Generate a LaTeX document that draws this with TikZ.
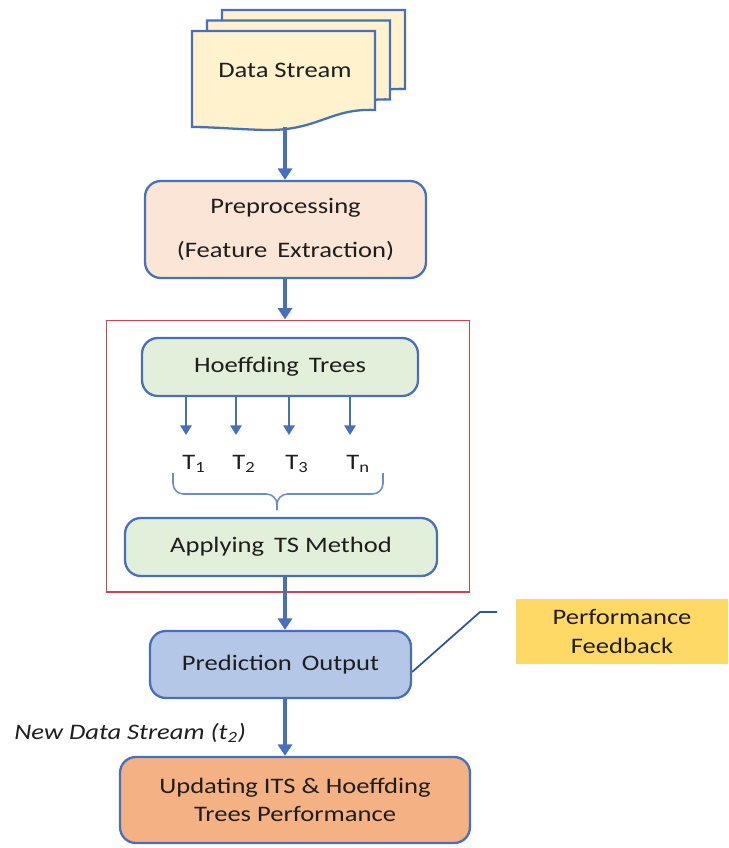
\documentclass[tikz,border=0pt]{standalone}
\usepackage{fontspec}
\setmainfont{Carlito}[FakeStretch=1.2]
\usepackage{tikz}
\usetikzlibrary{arrows.meta,positioning,calc}

\definecolor{edgeblue}{RGB}{72,112,186}
\definecolor{callblue}{RGB}{47,85,151}
\definecolor{docfill}{RGB}{255,242,204}
\definecolor{prepfill}{RGB}{251,229,214}
\definecolor{treefill}{RGB}{226,239,218}
\definecolor{predfill}{RGB}{180,199,231}
\definecolor{updfill}{RGB}{244,177,131}
\definecolor{feedfill}{RGB}{255,217,102}
\definecolor{framered}{RGB}{200,70,80}
\definecolor{inkgray}{RGB}{30,30,30}

\newcommand{\wsp}{\hspace{0.45em}}

\begin{document}
\begin{tikzpicture}[
    x=0.02cm, y=-0.02cm,
    >={Triangle[width=8pt,length=6.5pt]},
    every node/.style={font=\fontsize{12.6}{16}\selectfont, text=inkgray},
    flowbox/.style={draw=edgeblue, line width=1.3pt, rounded corners=9pt, align=center, inner sep=2pt},
    page/.style={draw=edgeblue, line width=1.3pt, fill=docfill},
    flow/.style={->, draw=edgeblue, line width=2.1pt},
    treearrow/.style={-{Triangle[width=6.5pt,length=5.5pt]}, draw=edgeblue, line width=1pt},
    tlabel/.style={anchor=base west, inner sep=0pt}
]
\useasboundingbox (0,0) rectangle (728,848);
\coordinate (spine) at (285,0);

% stacked pages of the incoming stream, back to front
\foreach \d in {2,1,0}{
  \begin{scope}[shift={(15*\d,-10.5*\d)}]
    \draw[page] (192,31) -- (375,31) -- (375,110)
      .. controls (330,108) and (318,131) .. (265,130)
      .. controls (232,129) and (212,127) .. (192,127) -- cycle;
  \end{scope}
}
\node (datastream) at (285,70) {Data Stream};
\coordinate (docfoot) at (285,127);

\node[flowbox, fill=prepfill, minimum width=5.62cm, minimum height=1.94cm] (prep) at (285.5,229.5)
  {Preprocessing\\[9pt](Feature\wsp Extraction)};

% ensemble block
\node[draw=framered, line width=0.6pt, minimum width=7.28cm, minimum height=5.44cm] (frame) at (288,456) {};
\node[flowbox, fill=treefill, minimum width=5.52cm, minimum height=1.16cm] (hoeff) at (280,367) {Hoeffding\wsp Trees};

\foreach \i/\x/\s in {1/186/1, 2/236/2, 3/289/3, 4/350/n}{
  \coordinate (tip\i) at (\x,435);
  \node[tlabel] (t\i) at (\x-4,469) {T\textsubscript{\s}};
  \draw[treearrow] (hoeff.south -| tip\i) -- (tip\i);
}

% brace gathering the trees
\coordinate (bracetip) at (277,510);
\draw[edgeblue!80, line width=0.9pt, rounded corners=6pt]
  (173,473) -- (173,494) -- (bracetip |- 0,494) -- (bracetip);
\draw[edgeblue!80, line width=0.9pt, rounded corners=6pt]
  (383,473) -- (383,494) -- (bracetip |- 0,494) -- (bracetip);

\node[flowbox, fill=treefill, minimum width=6.24cm, minimum height=1.16cm] (applyts) at (281,547) {Applying\wsp TS Method};

\node[flowbox, fill=predfill, minimum width=5.22cm, minimum height=1.34cm] (predict) at (280.5,664.5) {Prediction\wsp Output};

\node[fill=feedfill, align=center, minimum width=4.24cm, minimum height=1.3cm] (feedback) at (622,631.5)
  {Performance\\Feedback};

\node[flowbox, fill=updfill, minimum width=7.0cm, minimum height=1.72cm] (update) at (295,800)
  {Updating ITS \& Hoeffding\\Trees Performance};

\node[anchor=west, inner sep=0pt, font=\fontsize{12.6}{14}\selectfont\itshape] (newdata) at (14,733)
  {New Data Stream (t\textsubscript{2})};

% connectors along the spine
\draw[flow] (docfoot) -- (spine |- prep.north);
\draw[flow] (spine |- prep.south) -- (spine |- frame.north);
\draw[flow] (spine |- applyts.south) -- (spine |- predict.north);
\draw[flow] (spine |- predict.south) -- (spine |- update.north);

% callout leader
\coordinate (calltail) at (497,612);
\draw[callblue, line width=1pt] ($(predict.east)+(0,7.5)$) -- (480,612) -- (calltail);
\end{tikzpicture}
\end{document}
